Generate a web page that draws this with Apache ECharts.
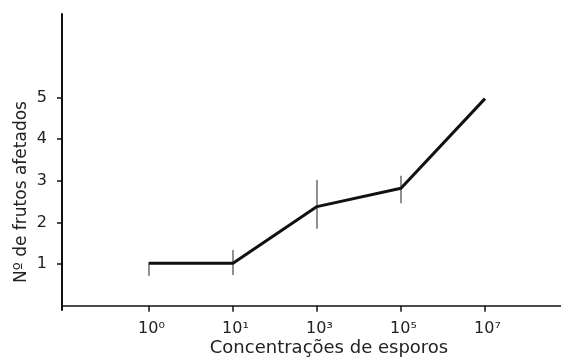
<!DOCTYPE html>
<html>
<head>
<meta charset="utf-8">
<script src="https://cdn.jsdelivr.net/npm/echarts@6/dist/echarts.min.js"></script>
<style>
html,body{margin:0;padding:0;background:#fff;}
#c{width:561px;height:358px;}
</style>
</head>
<body>
<div id="c"></div>
<script>
// Data
var categories = ['10⁰', '10¹', '10³', '10⁵', '10⁷'];
var positions = [1, 2, 3, 4, 5];
var means = [1.02, 1.02, 2.38, 2.82, 4.97];
var lower = [0.72, 0.74, 1.85, 2.46, null];
var upper = [1.05, 1.34, 3.02, 3.12, null];
var yTicks = [1, 2, 3, 4, 5];
var yAxisTitle = 'Nº de frutos afetados';
var xAxisTitle = 'Concentrações de esporos';

var chart = echarts.init(document.getElementById('c'));
var font = 'DejaVu Sans';
var lineData = positions.map(function (p, i) { return [p, means[i]]; });
var errData = [];
positions.forEach(function (p, i) {
  if (lower[i] != null) errData.push([p, lower[i], upper[i]]);
});

chart.setOption({
  animation: false,
  backgroundColor: '#fff',
  grid: { left: 62, right: 0, top: 14, bottom: 48 },
  xAxis: {
    type: 'value',
    min: -0.0357,
    max: 5.905,
    splitLine: { show: false },
    axisLine: { onZero: true, lineStyle: { color: '#111', width: 1.5 } },
    axisTick: { show: true, customValues: positions, length: 6, lineStyle: { color: '#111', width: 1.5 } },
    axisLabel: {
      customValues: positions,
      margin: 11,
      fontFamily: font,
      fontSize: 16,
      color: '#222',
      padding: [0, 0, 0, 5],
      formatter: function (v) {
        var i = positions.indexOf(Math.round(v));
        return i >= 0 ? categories[i] : '';
      }
    }
  },
  yAxis: {
    type: 'value',
    min: -0.1,
    max: 7,
    splitLine: { show: false },
    axisLine: { show: true, onZero: false, lineStyle: { color: '#111', width: 2 } },
    axisTick: { show: true, customValues: yTicks, length: 5, lineStyle: { color: '#111', width: 1.5 } },
    axisLabel: {
      customValues: yTicks,
      margin: 15,
      fontFamily: font,
      fontSize: 16,
      color: '#222'
    }
  },
  graphic: [
    {
      type: 'text',
      x: 22, y: 192,
      rotation: Math.PI / 2,
      style: {
        text: yAxisTitle,
        fontFamily: font, fontSize: 17, fill: '#222',
        align: 'center', verticalAlign: 'middle'
      }
    },
    {
      type: 'text',
      x: 329, y: 348,
      style: {
        text: xAxisTitle,
        fontFamily: font, fontSize: 18, fill: '#222',
        align: 'center', verticalAlign: 'middle'
      }
    }
  ],
  series: [
    {
      type: 'line',
      data: lineData,
      symbol: 'none',
      lineStyle: { color: '#111', width: 3 },
      z: 3
    },
    {
      type: 'custom',
      data: errData,
      z: 2,
      renderItem: function (params, api) {
        var x = api.value(0);
        var lo = api.coord([x, api.value(1)]);
        var hi = api.coord([x, api.value(2)]);
        return {
          type: 'line',
          shape: { x1: lo[0], y1: lo[1], x2: hi[0], y2: hi[1] },
          style: { stroke: '#222', lineWidth: 1 }
        };
      }
    }
  ]
});
</script>
</body>
</html>
